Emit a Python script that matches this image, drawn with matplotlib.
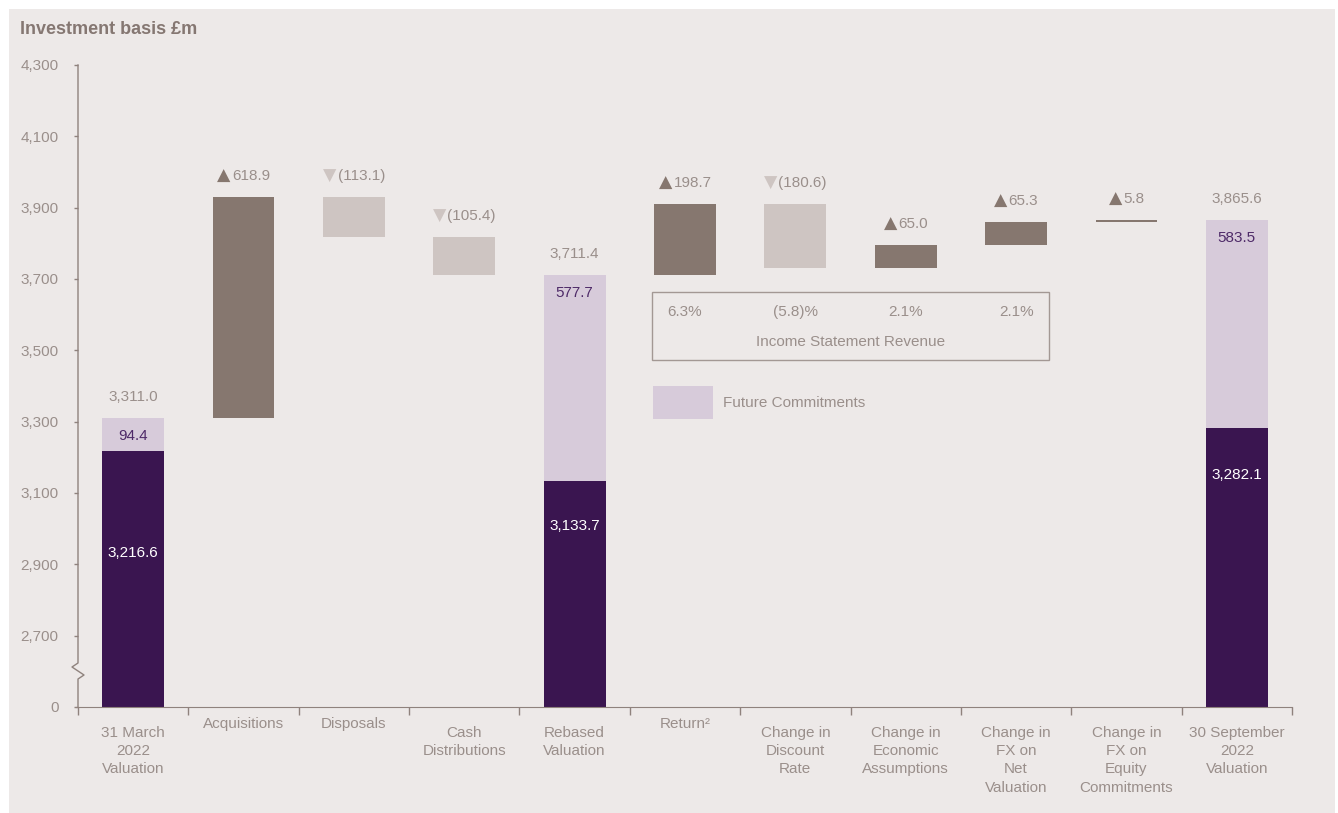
import numpy as np
import matplotlib.pyplot as plt
from matplotlib.patches import Rectangle, Patch
from matplotlib.offsetbox import TextArea, HPacker, AnnotationBbox

plt.rcParams['font.family'] = ['Liberation Sans', 'DejaVu Sans']

# ---- data ----
categories = ["31 March\n2022\nValuation", "Acquisitions", "Disposals",
              "Cash\nDistributions", "Rebased\nValuation", "Return\u00b2",
              "Change in\nDiscount\nRate", "Change in\nEconomic\nAssumptions",
              "Change in\nFX on\nNet\nValuation",
              "Change in\nFX on\nEquity\nCommitments",
              "30 September\n2022\nValuation"]

# totals: index -> (base value, future commitments)
total_idx = [0, 4, 10]
total_base = [3216.6, 3133.7, 3282.1]
total_commit = [94.4, 577.7, 583.5]

# movements between the totals
move_idx = [1, 2, 3, 5, 6, 7, 8, 9]
move_vals = [618.9, -113.1, -105.4, 198.7, -180.6, 65.0, 65.3, 5.8]

revenue_idx = [5, 6, 7, 8]
revenue_pct = ["6.3%", "(5.8)%", "2.1%", "2.1%"]

yticks = [0, 2700, 2900, 3100, 3300, 3500, 3700, 3900, 4100, 4300]

# ---- style ----
BG = '#ede9e8'
DARK = '#3a1550'
LILAC = '#d7cbda'
UP = '#86776f'
DOWN = '#cec5c2'
TXT = '#9a8f8b'
AXC = '#8f827d'
PURPLE_TXT = '#4e2a68'
FS = 11
inner_offsets = [-102, -45, -47]   # px below base-bar top for white labels

fig = plt.figure(figsize=(13.38, 8.13), dpi=100, facecolor='white')
fig.patches.append(Rectangle((9 / 1338, 0), 1 - 12 / 1338, 1 - 9 / 813,
                             transform=fig.transFigure, facecolor=BG,
                             edgecolor='none', zorder=-10))
ax = fig.add_axes([78 / 1338, 1 - 707 / 813, (1292 - 78) / 1338, (707 - 65) / 813])
ax.set_facecolor('none')


# broken axis: 0..2700 squeezed into the band 2500..2700
def fwd(v):
    v = np.asarray(v, dtype=float)
    return np.where(v < 2700, 2500 + v * 200 / 2700, v)


def inv(y):
    y = np.asarray(y, dtype=float)
    return np.where(y < 2700, (y - 2500) * 2700 / 200, y)


ax.set_yscale('function', functions=(fwd, inv))
ax.set_ylim(0, 4300)
ax.set_xlim(-0.5, len(categories) - 0.5)

W = 0.56
PX = 72 / 100  # points per pixel

# total bars
for i, b, c in zip(total_idx, total_base, total_commit):
    ax.bar(i, b, W, color=DARK, zorder=2)
    ax.bar(i, c, W, bottom=b, color=LILAC, zorder=2)
for i, b, c, off in zip(total_idx, total_base, total_commit, inner_offsets):
    top = b + c
    ax.annotate(f"{top:,.1f}", (i, top), xytext=(0, 21 * PX), textcoords='offset points',
                ha='center', va='center', fontsize=FS, color=TXT)
    ax.annotate(f"{c:,.1f}", (i, top), xytext=(0, -18 * PX), textcoords='offset points',
                ha='center', va='center', fontsize=FS, color=PURPLE_TXT)
    ax.annotate(f"{b:,.1f}", (i, b), xytext=(0, off * PX), textcoords='offset points',
                ha='center', va='center', fontsize=FS, color='white')

# movement bars
level = total_base[0] + total_commit[0]
for i, v in zip(move_idx, move_vals):
    start = level
    level = level + v
    ax.bar(i, abs(v), W, bottom=min(start, level), color=UP if v > 0 else DOWN, zorder=2)
    top = max(start, level)
    tri = TextArea('\u25b2' if v > 0 else '\u25bc',
                   textprops=dict(color=UP if v > 0 else DOWN, fontsize=12.5,
                                  family=['DejaVu Sans']))
    num = TextArea(f"{v:.1f}" if v > 0 else f"({-v:.1f})",
                   textprops=dict(color=TXT, fontsize=FS))
    box = HPacker(children=[tri, num], pad=0, sep=1, align='center')
    ab = AnnotationBbox(box, (i, top), xybox=(0, 21 * PX), boxcoords='offset points',
                        frameon=False, box_alignment=(0.5, 0.5), annotation_clip=False)
    ax.add_artist(ab)

# income statement revenue box
ax.add_patch(Rectangle((4.70, 3474), 8.30 - 4.70, 3664 - 3474, facecolor='none',
                       edgecolor='#a39894', lw=1.0, zorder=3))
for i, p in zip(revenue_idx, revenue_pct):
    ax.text(i, 3608, p, ha='center', va='center', fontsize=FS, color=TXT)
ax.text(6.5, 3524, "Income Statement Revenue", ha='center', va='center',
        fontsize=FS, color=TXT)

# legend
leg = ax.legend(handles=[Patch(facecolor=LILAC, edgecolor='none', label='Future Commitments')],
                loc='upper left', bbox_to_anchor=((653 - 78) / 1214, (707 - 386) / 642),
                frameon=False, fontsize=FS, handlelength=3.9, handleheight=2.9,
                handletextpad=0.7, borderpad=0, borderaxespad=0, labelcolor=TXT)

# axes styling
for s in ['top', 'right', 'left']:
    ax.spines[s].set_visible(False)
ax.spines['bottom'].set_color(AXC)
ax.spines['bottom'].set_bounds(-0.52, len(categories) - 0.5)

# left spine with zigzag break
h = 642.0
wpx = 1214.0
zx = [0, 0, -6 / wpx, 6 / wpx, 0, 0]
zy = [1, (707 - 663) / h, (707 - 667) / h, (707 - 675) / h, (707 - 679) / h, 0]
ax.plot(zx, zy, transform=ax.transAxes, color=AXC, lw=1.0, clip_on=False, zorder=3)

ax.set_yticks(yticks)
ax.set_yticklabels([f"{t:,}" for t in yticks])
ax.yaxis.set_minor_locator(plt.NullLocator())
ax.tick_params(axis='y', length=3, width=1, color=AXC, labelcolor=TXT,
               labelsize=FS, pad=11)

ax.set_xticks(np.arange(-0.5, len(categories)), minor=True)
ax.set_xticks([])
ax.tick_params(axis='x', which='minor', length=6, width=1, color=AXC)

xlab_tr = ax.get_xaxis_transform()
for i, lab in enumerate(categories):
    off = -10 if '\n' not in lab else -19
    ax.annotate(lab, (i, 0), xycoords=xlab_tr, xytext=(0, off * PX),
                textcoords='offset points', ha='center', va='top',
                fontsize=FS, color=TXT, linespacing=1.38)

fig.text(20 / 1338, 1 - 29 / 813, "Investment basis \u00a3m", ha='left', va='center',
         fontsize=13, fontweight='bold', color='#857772')

fig.savefig('out.png', dpi=100, facecolor='white')
